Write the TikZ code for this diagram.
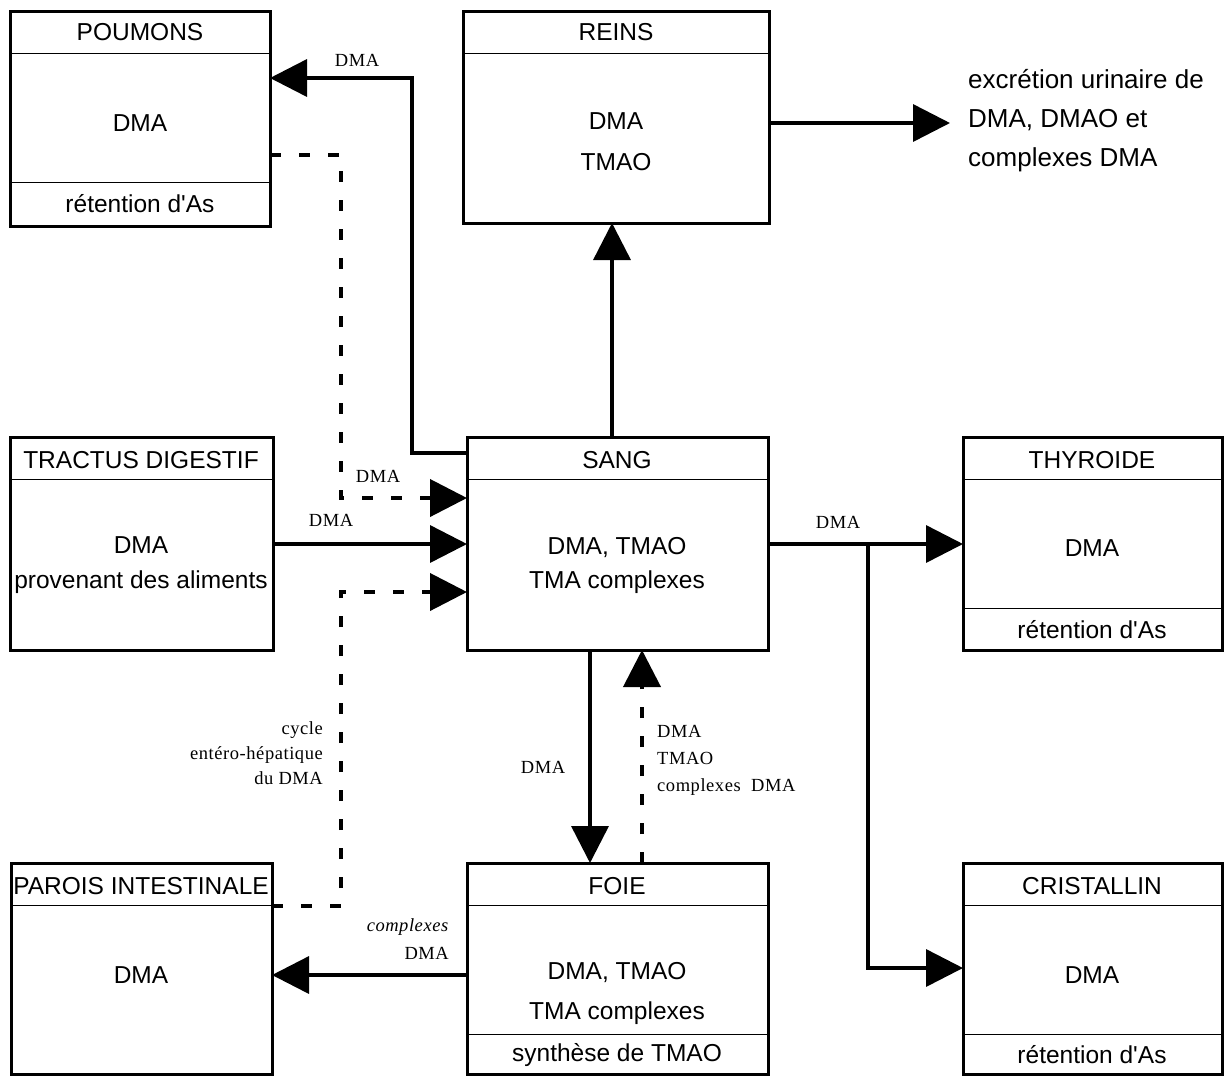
\documentclass[tikz,border=0pt]{standalone}
\usepackage{fontspec}
\setmainfont{Liberation Sans}[Ligatures=TeXOff]
\newfontfamily\labfont{Liberation Serif}[LetterSpace=3]
\usetikzlibrary{arrows.meta,calc}
\begin{document}
\begin{tikzpicture}[x=1pt,y=-1pt,
 box/.style={draw,line width=3pt,rectangle,inner sep=0pt,outer sep=0pt,anchor=north west},
 sepline/.style={line width=0.9pt},
 txt/.style={font=\fontsize{24.5}{30}\selectfont,inner sep=0pt,align=center},
 lab/.style={font=\labfont\fontsize{18.5}{25}\selectfont,inner sep=0pt},
 conn/.style={line width=3.5pt,line join=miter,-{Triangle[length=37pt,width=37pt]}},
 dconn/.style={line width=4pt,line join=miter,dash pattern=on 11pt off 18pt,-{Triangle[length=37pt,width=37pt]}},
]
\useasboundingbox (0,0) rectangle (1228,1077);

% boxes
\node[box,minimum width=260pt,minimum height=215pt] (poumons) at (10,11) {};
\node[box,minimum width=306pt,minimum height=212pt] (reins) at (463,11) {};
\node[box,minimum width=263pt,minimum height=213pt] (tractus) at (10,437) {};
\node[box,minimum width=301pt,minimum height=213pt] (sang) at (467,437) {};
\node[box,minimum width=259pt,minimum height=213pt] (thyroide) at (963,437) {};
\node[box,minimum width=261pt,minimum height=211pt] (parois) at (11,863) {};
\node[box,minimum width=301pt,minimum height=211pt] (foie) at (467,863) {};
\node[box,minimum width=259pt,minimum height=211pt] (cristallin) at (963,863) {};

% header separators
\foreach \b in {poumons,reins,tractus,sang,thyroide,parois,foie,cristallin}
  \draw[sepline] ($(\b.north west)+(0,42)$) -- ($(\b.north east)+(0,42)$);
% footer separators
\foreach \b in {poumons,thyroide,foie,cristallin}
  \draw[sepline] ($(\b.north west)+(0,171)$) -- ($(\b.north east)+(0,171)$);

% box texts
\node[txt] (tpoum1) at (140,32) {POUMONS};
\node[txt] (tpoum2) at (140,123) {DMA};
\node[txt] (tpoum3) at (140,204) {rétention d'As};

\node[txt] (trein1) at (616,32) {REINS};
\node[txt,font=\fontsize{24.5}{41}\selectfont] (trein2) at (616,142) {DMA\\TMAO};

\node[txt] (ttrac1) at (141,460) {TRACTUS DIGESTIF};
\node[txt,font=\fontsize{24.5}{35}\selectfont] (ttrac2) at (141,565) {DMA\\provenant des aliments};

\node[txt] (tsang1) at (617,460) {SANG};
\node[txt,font=\fontsize{24.5}{34}\selectfont] (tsang2) at (617,565) {DMA, TMAO\\TMA complexes};

\node[txt] (tthy1) at (1092,460) {THYROIDE};
\node[txt] (tthy2) at (1092,548) {DMA};
\node[txt] (tthy3) at (1092,630) {rétention d'As};

\node[txt] (tpar1) at (141,886) {PAROIS INTESTINALE};
\node[txt] (tpar2) at (141,975) {DMA};

\node[txt] (tfoie1) at (617,886) {FOIE};
\node[txt,font=\fontsize{24.5}{40}\selectfont] (tfoie2) at (617,993) {DMA, TMAO\\TMA complexes};
\node[txt] (tfoie3) at (617,1055) {synthèse de TMAO};

\node[txt] (tcri1) at (1092,886) {CRISTALLIN};
\node[txt] (tcri2) at (1092,975) {DMA};
\node[txt] (tcri3) at (1092,1055) {rétention d'As};

% excretion text
\node[txt,anchor=west,align=left,font=\fontsize{26}{39}\selectfont] (excr) at (968,121)
  {excrétion urinaire de\\DMA, DMAO et\\complexes DMA};
\coordinate (excrin) at (950,123);

% connectors
\coordinate (b1) at (412,78);
\draw[conn] (sang.west |- 0,453) -| (b1) -- (poumons.east |- b1);
\node[lab] (l1) at (357,60) {DMA};

\coordinate (b2) at (341,155);
\coordinate (b3) at (341,498);
\draw[dconn] (poumons.east |- b2) -- (b2) -- (b3) -- (sang.west |- b3);
\node[lab] (l2) at (378,476) {DMA};

\draw[conn] (tractus.east |- 0,544) -- (sang.west |- 0,544);
\node[lab] (l3) at (331,520) {DMA};

\coordinate (b4) at (341,906);
\coordinate (b5) at (341,592);
\draw[dconn] (parois.east |- b4) -- (b4) -- (b5) -- (sang.west |- b5);
\node[lab,anchor=east,align=right] (l4) at (323,753) {cycle\\entéro-hépatique\\du DMA};

\draw[conn] (sang.north -| 612,0) -- (reins.south -| 612,0);

\draw[conn] (reins.east |- excrin) -- (excrin);

\draw[conn] (sang.east |- 0,544) -- (thyroide.west |- 0,544);
\node[lab] (l5) at (838,522) {DMA};

\coordinate (b6) at (868,544);
\coordinate (b7) at (868,968);
\draw[conn] (b6) -- (b7) -- (cristallin.west |- b7);

\draw[conn] (sang.south -| 590,0) -- (foie.north -| 590,0);
\node[lab] (l6) at (543,767) {DMA};

\draw[dconn] (foie.north -| 642,0) -- (sang.south -| 642,0);
\node[lab,anchor=west,align=left,font=\labfont\fontsize{18.5}{27}\selectfont] (l7) at (657,760) {DMA\\TMAO\\complexes\ \ DMA};

\draw[conn] (foie.west |- 0,975) -- (parois.east |- 0,975);
\node[lab,anchor=east,align=right,font=\labfont\fontsize{18.5}{28}\selectfont] (l8) at (449,939) {\textit{complexes}\\DMA};
\end{tikzpicture}
\end{document}
